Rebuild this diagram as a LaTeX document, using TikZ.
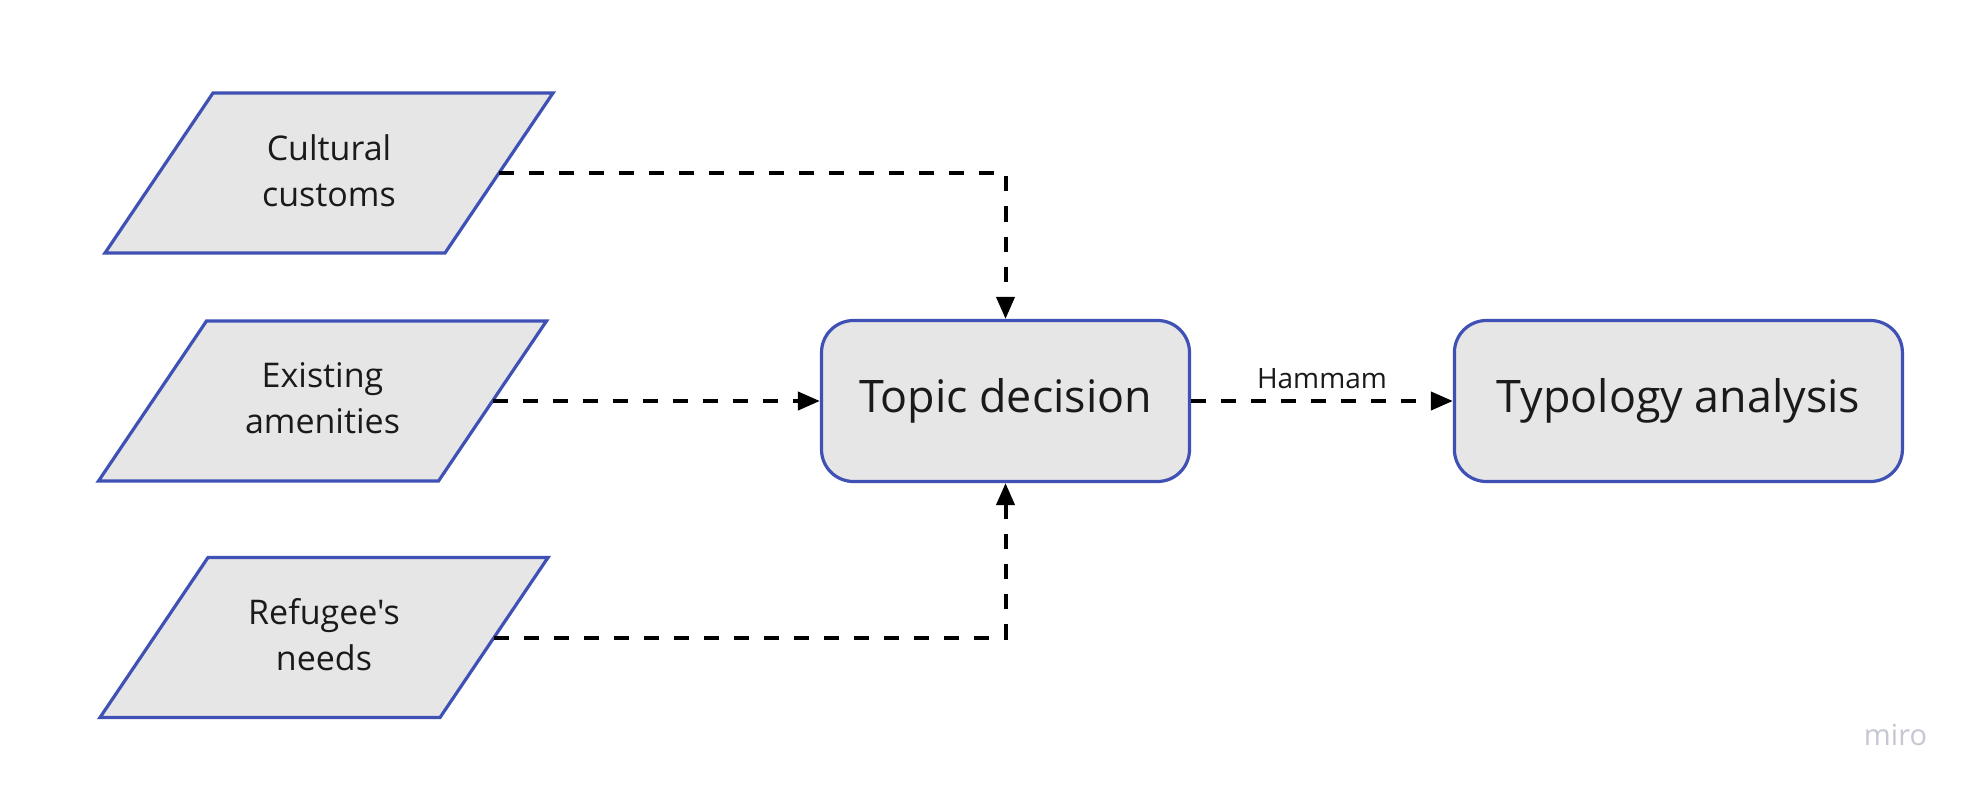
\documentclass[tikz,border=0pt]{standalone}
\usepackage{fontspec}
\setmainfont{Open Sans}[Ligatures=TeXOff]
\usetikzlibrary{arrows.meta}
\definecolor{bordblue}{HTML}{3F51B5}
\definecolor{boxfill}{HTML}{E6E6E6}
\definecolor{txt}{HTML}{1A1A1A}
\definecolor{wm}{HTML}{C5C7D3}
\newcommand\paragram[4]{%
  \begin{scope}[shift={(#2,#3)}]
    \draw[pshape] (-116,-80) -- (224,-80) -- (116,80) -- (-224,80) -- cycle;
    \node[ptext] (#1) at (0,-2.5) {#4};
    \coordinate (#1-e) at (170,0);
  \end{scope}}
\begin{document}
\begin{tikzpicture}[x=0.5pt,y=-0.5pt,
  pshape/.style={draw=bordblue, line width=1.6pt, fill=boxfill},
  ptext/.style={text=txt, align=center, font=\fontsize{17}{22.85}\selectfont, inner sep=0pt},
  rbox/.style={rectangle, rounded corners=16pt, draw=bordblue, line width=1.6pt,
    fill=boxfill, text=txt, font=\fontsize{22.4}{28}\selectfont, minimum height=80.5pt},
  flow/.style={dash pattern=on 7.5pt off 7.5pt, line width=2pt,
    -{Triangle[length=11pt,width=9pt]}},
  lbl/.style={text=txt, font=\fontsize{14}{16}\selectfont}]
\fill[white] (0,0) rectangle (1973,791);
\useasboundingbox (0,0) rectangle (1973,791);

\paragram{cc}{329}{173}{Cultural\\customs}
\paragram{ea}{322.5}{401}{Existing\\amenities}
\paragram{rn}{324}{637.5}{Refugee's\\needs}
\node[rbox, minimum width=184pt] (td) at (1005.5,401) {Topic decision};
\node[rbox, minimum width=224pt] (ta) at (1678.4,401) {Typology analysis};

\draw[flow] (cc-e) -| (td.north);
\draw[flow] (ea-e) -- (td.west);
\draw[flow] (rn-e) -| (td.south);
\draw[flow] (td.east) -- node[lbl, midway, above=1.8pt] (hm) {Hammam} (ta.west);

\node[text=wm, font=\fontsize{14.5}{14.5}\selectfont, anchor=base] (miro) at (1895.5,745) {miro};
\end{tikzpicture}
\end{document}
